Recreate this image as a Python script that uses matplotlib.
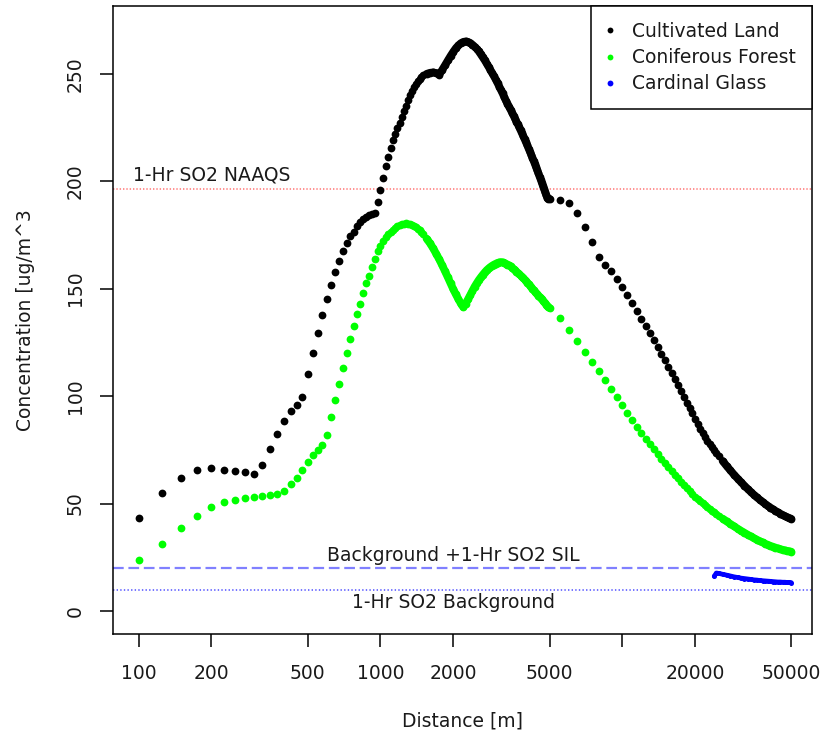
import matplotlib
matplotlib.use("Agg")
import matplotlib.pyplot as plt
from matplotlib.lines import Line2D
from matplotlib.ticker import NullLocator

plt.rcParams['font.family'] = ['DejaVu Sans']
plt.rcParams['lines.scale_dashes'] = False

# ---------------- data ----------------
dist_near = [100, 125, 150, 175, 200, 225, 250, 275, 300, 325, 350, 375, 400, 425, 450, 475,
             500, 525, 550, 575, 600, 625, 650, 675, 700, 725, 750, 775, 800, 825, 850, 875,
             900, 925, 950, 975, 1000, 1025, 1050, 1075, 1100, 1125, 1150, 1175, 1200, 1225,
             1250, 1275, 1300, 1325, 1350, 1375, 1400, 1425, 1450, 1475, 1500]
dist_mid = [1550, 1600, 1650, 1700, 1750, 1800, 1850, 1900, 1950, 2000, 2050, 2100, 2150, 2200,
            2250, 2300, 2350, 2400, 2450, 2500, 2550, 2600, 2650, 2700, 2750, 2800, 2850, 2900,
            2950, 3000, 3050, 3100, 3150, 3200, 3250, 3300, 3350, 3400, 3450, 3500, 3550, 3600,
            3650, 3700, 3750, 3800, 3850, 3900, 3950, 4000, 4050, 4100, 4150, 4200, 4250, 4300,
            4350, 4400, 4450, 4500, 4550, 4600, 4650, 4700, 4750, 4800, 4850, 4900, 4950, 5000]
dist_far = [5500, 6000, 6500, 7000, 7500, 8000, 8500, 9000, 9500, 10000, 10500, 11000, 11500,
            12000, 12500, 13000, 13500, 14000, 14500, 15000, 15500, 16000, 16500, 17000, 17500,
            18000, 18500, 19000, 19500, 20000, 20500, 21000, 21500, 22000, 22500, 23000, 23500,
            24000, 24500, 25000]
dist_tail = [26000, 27000, 28000, 29000, 30000, 31000, 32000, 33000, 34000, 35000, 36000, 37000,
             38000, 39000, 40000, 41000, 42000, 43000, 44000, 45000, 46000, 47000, 48000, 49000,
             50000]

cultivated_near = [43.2, 54.7, 61.9, 65.8, 66.6, 65.4, 65.1, 64.6, 63.8, 67.8, 75.3, 82.2, 88.4,
                   93.1, 96.0, 99.4, 110.1, 120.2, 129.3, 137.7, 145.1, 151.8, 157.7, 162.8,
                   167.3, 171.3, 174.3, 176.5, 179.0, 180.8, 182.2, 183.3, 184.2, 184.9, 185.4,
                   190.2, 196.0, 201.5, 206.9, 211.4, 215.4, 219.0, 222.0, 224.6, 226.9, 229.8,
                   232.6, 235.2, 237.7, 240.0, 241.9, 243.6, 245.1, 246.4, 247.5, 248.4, 249.2]
cultivated_mid = [249.9, 250.4, 250.6, 250.3, 249.6, 251.8, 254.0, 256.2, 258.3, 260.2, 261.9,
                  263.2, 264.2, 264.8, 265.0, 264.8, 264.3, 263.5, 262.6, 261.6, 260.4, 259.0,
                  257.6, 256.2, 254.7, 253.2, 251.7, 250.2, 248.7, 247.2, 245.6, 244.0, 242.4,
                  240.8, 239.1, 237.5, 236.1, 234.7, 233.3, 231.9, 230.5, 229.1, 227.7, 226.4,
                  225.0, 223.6, 222.2, 220.8, 219.4, 218.0, 216.6, 215.1, 213.7, 212.3, 210.9,
                  209.4, 208.0, 206.5, 205.0, 203.6, 202.1, 200.7, 199.2, 197.7, 196.3, 194.8,
                  193.4, 192.2, 191.9, 191.8]
cultivated_far = [191.4, 189.7, 185.1, 178.9, 171.5, 164.5, 160.8, 158.0, 154.7, 150.7, 147.0,
                  143.2, 139.6, 136.0, 132.6, 129.2, 125.9, 122.7, 119.6, 116.6, 113.6, 110.7,
                  107.8, 105.0, 102.3, 99.6, 97.0, 94.4, 91.9, 89.4, 87.0, 84.8, 82.8, 81.0,
                  79.3, 77.7, 76.2, 74.8, 73.5, 72.2]
cultivated_tail = [69.8, 67.5, 65.4, 63.4, 61.6, 59.9, 58.3, 56.8, 55.4, 54.1, 52.9, 51.8, 50.8,
                   49.8, 48.9, 48.1, 47.3, 46.6, 45.9, 45.3, 44.7, 44.2, 43.7, 43.3, 42.9]

coniferous_near = [23.6, 31.3, 38.6, 44.3, 48.5, 50.8, 51.8, 52.6, 53.2, 53.6, 54.0, 54.5, 55.9,
                   59.3, 61.7, 65.5, 69.4, 72.5, 74.8, 77.1, 81.8, 90.3, 98.0, 105.8, 113.2,
                   120.2, 126.7, 132.4, 138.0, 143.0, 148.1, 152.6, 156.1, 160.0, 163.9, 167.3,
                   170.0, 172.0, 173.8, 175.3, 176.5, 177.5, 178.4, 179.1, 179.6, 180.0, 180.3,
                   180.4, 180.3, 180.1, 179.7, 179.2, 178.6, 177.9, 177.1, 176.2, 175.3]
coniferous_mid = [173.3, 171.2, 168.8, 166.2, 163.6, 160.8, 158.0, 155.2, 152.4, 149.7, 147.3,
                  145.1, 143.0, 141.4, 143.0, 145.0, 147.0, 149.0, 150.9, 152.5, 154.0, 155.3,
                  156.5, 157.6, 158.6, 159.4, 160.1, 160.7, 161.2, 161.6, 162.0, 162.2, 162.3,
                  162.2, 162.0, 161.6, 161.2, 160.8, 160.3, 159.7, 159.1, 158.5, 157.9, 157.3,
                  156.7, 156.1, 155.5, 154.9, 154.2, 153.5, 152.8, 152.1, 151.4, 150.7, 150.0,
                  149.3, 148.6, 148.0, 147.4, 146.8, 146.2, 145.6, 145.0, 144.4, 143.8, 143.2,
                  142.6, 142.0, 141.5, 141.0]
coniferous_far = [136.2, 130.6, 125.5, 120.4, 115.7, 111.5, 107.3, 103.2, 99.4, 95.7, 92.2, 88.8,
                  85.7, 82.7, 80.1, 77.6, 75.3, 73.0, 70.9, 68.8, 66.9, 65.1, 63.4, 61.8, 60.2,
                  58.6, 57.2, 55.8, 54.4, 53.0, 52.0, 51.0, 50.1, 49.2, 48.3, 47.5, 46.7, 45.9,
                  45.1, 44.4]
coniferous_tail = [43.0, 41.7, 40.5, 39.4, 38.3, 37.3, 36.4, 35.5, 34.7, 33.9, 33.2, 32.5, 31.9,
                   31.3, 30.8, 30.3, 29.9, 29.5, 29.1, 28.8, 28.5, 28.2, 28.0, 27.8, 27.6]

glass_dist = [24000, 24500, 25000, 26000, 27000, 28000, 29000, 30000, 31000, 32000, 33000, 34000,
              35000, 36000, 37000, 38000, 39000, 40000, 41000, 42000, 43000, 44000, 45000, 46000,
              47000, 48000, 49000, 50000]
glass_conc = [16.2, 17.7, 17.5, 17.1, 16.7, 16.3, 15.9, 15.6, 15.3, 15.1, 14.9, 14.7, 14.5, 14.4,
              14.2, 14.1, 14.0, 13.9, 13.8, 13.7, 13.6, 13.5, 13.5, 13.4, 13.4, 13.3, 13.3, 13.2]

naaqs = 196.5
background = 10.0
sil_line = 20.2

x_ticks = [100, 200, 500, 1000, 2000, 5000, 10000, 20000, 50000]
x_labels = ['100', '200', '500', '1000', '2000', '5000', '', '20000', '50000']
y_ticks = [0, 50, 100, 150, 200, 250]
series_names = ['Cultivated Land', 'Coniferous Forest', 'Cardinal Glass']

dist = dist_near + dist_mid + dist_far + dist_tail
cultivated = cultivated_near + cultivated_mid + cultivated_far + cultivated_tail
coniferous = coniferous_near + coniferous_mid + coniferous_far + coniferous_tail
assert len(dist) == len(cultivated) == len(coniferous)
assert len(glass_dist) == len(glass_conc)

# ---------------- figure ----------------
FS = 13.5
TXT = '#1a1a1a'
MS = 5.6
BLACK, GREEN, BLUE = '#000000', '#00ff00', '#0000ff'

fig = plt.figure(figsize=(8.25, 7.4), dpi=100)
ax = fig.add_axes([0.13697, 0.14324, 0.84727, 0.84865])
ax.set_xscale('log')
ax.set_xlim(78.3, 60880)
ax.set_ylim(-10.7, 281.5)

ax.axhline(naaqs, color='#ff8080', lw=1.2, ls=(0, (1.0, 1.4)), zorder=1)
ax.axhline(sil_line, color='#8080ff', lw=1.6, ls=(0, (7.7, 3.4)), zorder=1)
ax.axhline(background, color='#5c5cff', lw=1.2, ls=(0, (1.0, 1.6)), zorder=1)

# points
ax.plot(dist, cultivated, ls='none', marker='o', ms=MS, mew=0, color=BLACK, zorder=3)
ax.plot(dist, coniferous, ls='none', marker='o', ms=MS, mew=0, color=GREEN, zorder=3)
# where the receptors are closely spaced the dots merge into a solid band
for d, v, c in [(dist_mid, cultivated_mid, BLACK), (dist_tail, cultivated_tail, BLACK),
                (dist_mid, coniferous_mid, GREEN), (dist_tail, coniferous_tail, GREEN)]:
    ax.plot(d, v, ls='-', lw=MS, color=c, solid_capstyle='round', solid_joinstyle='round',
            zorder=3)
ax.plot(glass_dist, glass_conc, ls='-', lw=3.4, marker='o', ms=3.6, mew=0, color=BLUE,
        solid_capstyle='round', zorder=3)

ax.text(200, 203, '1-Hr SO2 NAAQS', ha='center', va='center', fontsize=FS, color=TXT)
ax.text(2000, 26.0, 'Background +1-Hr SO2 SIL', ha='center', va='center', fontsize=FS, color=TXT)
ax.text(2000, 3.9, '1-Hr SO2 Background', ha='center', va='center', fontsize=FS, color=TXT)

ax.set_xticks(x_ticks)
ax.set_xticklabels(x_labels)
ax.xaxis.set_minor_locator(NullLocator())
ax.set_yticks(y_ticks)
ax.set_yticklabels([str(v) for v in y_ticks], rotation=90, va='center')
ax.tick_params(direction='out', length=9.5, width=1.1, labelsize=FS, pad=12, colors='black',
               labelcolor=TXT)
ax.tick_params(axis='y', pad=11)
for s in ax.spines.values():
    s.set_linewidth(1.1)
    s.set_color('black')

ax.set_xlabel('Distance [m]', fontsize=FS, color=TXT)
ax.xaxis.set_label_coords(0.5, -0.124)
ax.set_ylabel('Concentration [ug/m^3', fontsize=FS, color=TXT)
ax.yaxis.set_label_coords(-0.112, 0.5)

handles = [Line2D([], [], ls='none', marker='o', ms=4.2, mew=0, color=c)
           for c in [BLACK, GREEN, BLUE]]
leg = ax.legend(handles, series_names, loc='upper right', borderaxespad=0, frameon=True,
                fancybox=False, edgecolor='black', framealpha=1, fontsize=FS,
                handlelength=0.33, handletextpad=1.0, labelspacing=0.38, borderpad=0.85)
leg.get_frame().set_linewidth(1.1)
for t in leg.get_texts():
    t.set_color(TXT)

fig.savefig('out.png', dpi=100)
